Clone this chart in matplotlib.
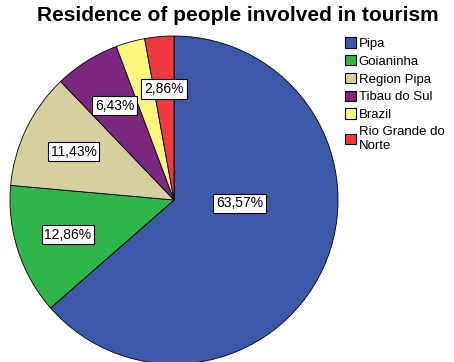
import numpy as np
import matplotlib.pyplot as plt
from matplotlib.patches import Patch

plt.rcParams["font.family"] = ["Liberation Sans", "DejaVu Sans"]

# Place of residence, percent of respondents (n=140)
places = ["Pipa", "Goianinha", "Region Pipa", "Tibau do Sul", "Brazil",
          "Rio Grande do\nNorte"]
shares = [63.57, 12.86, 11.43, 6.43, 2.86, 2.86]
colors = ["#3E58A9", "#2EB64A", "#D6CF9E", "#7B287E", "#FBF87B", "#EF3A3F"]
show_label = [True, True, True, True, False, True]


def fmt_pct(v):
    return f"{v:.2f}%".replace(".", ",")


def main():
    fig = plt.figure(figsize=(4.54, 3.62), dpi=100)
    W, H = 454, 362
    cx, cy, R = 174, 200, 164
    ax = fig.add_axes([(cx - R) / W, (H - cy - R) / H, 2 * R / W, 2 * R / H])

    wedges, _ = ax.pie(
        shares, colors=colors, startangle=90, counterclock=False,
        wedgeprops=dict(edgecolor="black", linewidth=0.6),
    )
    ax.set_xlim(-1, 1)
    ax.set_ylim(-1, 1)
    ax.set_aspect("equal")

    box = dict(boxstyle="square,pad=0.2", fc="white", ec="black", lw=0.8)
    for i, (w, v) in enumerate(zip(wedges, shares)):
        if not show_label[i]:
            continue
        if i == 0:
            # big slice: label sits just right of the centre
            x, y = 0.40, -0.02
        else:
            mid = np.deg2rad((w.theta1 + w.theta2) / 2)
            r = 0.68
            x, y = r * np.cos(mid), r * np.sin(mid)
        ax.text(x, y, fmt_pct(v), ha="center", va="center", fontsize=10,
                bbox=box)

    fig.text(237.5 / W, 1 - 6 / H, "Residence of people involved in tourism",
             ha="center", va="top", fontsize=15, fontweight="bold")

    handles = [Patch(facecolor=c, edgecolor="black", linewidth=0.8)
               for c in colors]
    fig.legend(handles, places, loc="upper left",
               bbox_to_anchor=(345 / W, 1 - 37 / H), frameon=False,
               fontsize=9.5, handlelength=0.85, handleheight=0.85,
               handletextpad=0.2, labelspacing=0.38, borderpad=0,
               borderaxespad=0)

    fig.savefig("out.png", dpi=100)
    plt.close(fig)


if __name__ == "__main__":
    main()
